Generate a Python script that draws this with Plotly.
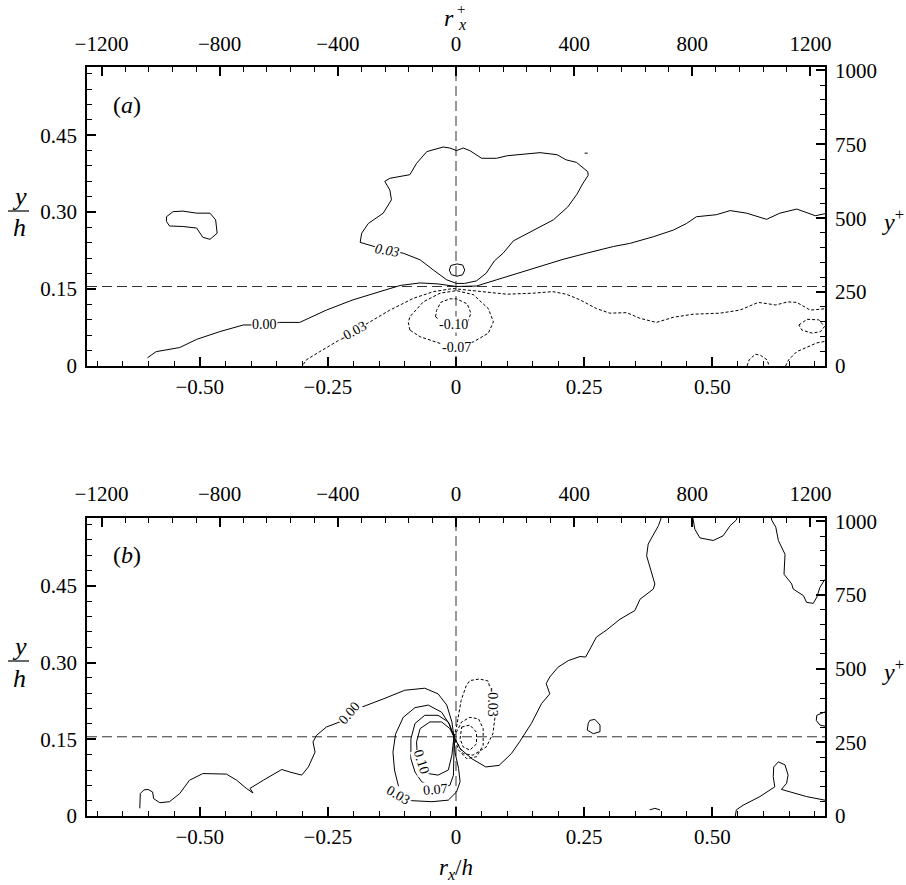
import numpy as np
import plotly.graph_objects as go

# ---------------- data ----------------
RE_TAU = 1735          # friction Reynolds number (rx+ = rx/h * RE_TAU)
Y_REF = 0.155          # reference height y/h (horizontal dashed line)
X_RANGE = [-0.72, 0.72]
Y_RANGE = [0.0, 0.583]

BOTTOM_TICKS = [-0.50, -0.25, 0.0, 0.25, 0.50]
BOTTOM_LABELS = ["\u22120.50", "\u22120.25", "0", "0.25", "0.50"]
LEFT_TICKS = [0.0, 0.15, 0.30, 0.45]
LEFT_LABELS = ["0", "0.15", "0.30", "0.45"]
TOP_TICKS = [-1200, -800, -400, 0, 400, 800, 1200]
TOP_LABELS = ["\u22121200", "\u2212800", "\u2212400", "0", "400", "800", "1200"]
RIGHT_TICKS = [0, 250, 500, 750, 1000]
RIGHT_LABELS = ["0", "250", "500", "750", "1000"]

# panel (a) contours  (rx/h, y/h)
A_ZERO = [(-0.602,0.016),(-0.585,0.028),(-0.539,0.036),(-0.506,0.052),(-0.461,0.067),(-0.415,0.080),
          (-0.373,0.080),(-0.344,0.085),(-0.305,0.085),(-0.253,0.109),(-0.201,0.129),(-0.150,0.144),
          (-0.109,0.157),(-0.070,0.162),(-0.035,0.160),(0.001,0.155),(0.040,0.156),(0.079,0.168),
          (0.145,0.188),(0.209,0.208),(0.255,0.220),(0.307,0.233),(0.339,0.239),(0.385,0.252),
          (0.424,0.265),(0.450,0.278),(0.469,0.291),(0.508,0.295),(0.535,0.303),(0.567,0.298),
          (0.606,0.286),(0.632,0.298),(0.665,0.306),(0.701,0.293),(0.725,0.298)]
A_P03 = [(-0.187,0.241),(-0.132,0.225),(-0.103,0.220),(-0.070,0.207),(-0.044,0.187),(-0.018,0.168),
         (0.001,0.161),(0.017,0.161),(0.040,0.166),(0.059,0.181),(0.075,0.205),(0.092,0.220),
         (0.112,0.244),(0.150,0.264),(0.190,0.285),(0.218,0.310),(0.236,0.335),(0.247,0.355),
         (0.258,0.372),(0.257,0.379),(0.235,0.397),(0.215,0.402),(0.197,0.412),(0.164,0.416),
         (0.124,0.413),(0.100,0.410),(0.079,0.405),(0.050,0.405),(0.027,0.420),(0.014,0.425),
         (0.001,0.420),(-0.012,0.425),(-0.025,0.427),(-0.057,0.418),(-0.077,0.395),(-0.090,0.373),
         (-0.129,0.366),(-0.139,0.360),(-0.129,0.343),(-0.126,0.324),(-0.142,0.298),(-0.171,0.278),
         (-0.184,0.259),(-0.187,0.241)]
A_P03_SMALL = [(0.017,0.187),(0.013,0.197),(0.002,0.199),(-0.010,0.196),(-0.013,0.187),(-0.009,0.178),
               (0.002,0.175),(0.013,0.178),(0.017,0.187)]
A_LEFT = [(-0.565,0.291),(-0.552,0.301),(-0.533,0.302),(-0.506,0.298),(-0.480,0.298),(-0.469,0.285),
          (-0.466,0.259),(-0.480,0.247),(-0.494,0.251),(-0.506,0.269),(-0.533,0.272),(-0.559,0.273),
          (-0.565,0.282),(-0.565,0.291)]
A_SPECK = [(0.251,0.415),(0.257,0.415)]
A_M03 = [(-0.298,0.003),(-0.292,0.012),(-0.266,0.028),(-0.227,0.051),(-0.201,0.067),(-0.168,0.086),
         (-0.129,0.109),(-0.083,0.132),(-0.044,0.145),(-0.006,0.151),(0.047,0.145),(0.099,0.140),
         (0.151,0.142),(0.189,0.145),(0.215,0.140),(0.242,0.129),(0.274,0.112),(0.300,0.103),
         (0.333,0.104),(0.359,0.093),(0.391,0.085),(0.424,0.095),(0.463,0.101),(0.515,0.103),
         (0.554,0.109),(0.590,0.124),(0.624,0.119),(0.647,0.125),(0.665,0.124),(0.691,0.109),
         (0.725,0.112)]
A_M07 = [(-0.090,0.070),(-0.093,0.085),(-0.090,0.096),(-0.064,0.125),(-0.031,0.142),(0.001,0.147),
         (0.034,0.139),(0.063,0.112),(0.073,0.086),(0.063,0.064),(0.034,0.047),(0.001,0.038),
         (-0.031,0.044),(-0.070,0.057),(-0.090,0.070)]
A_M10 = [(-0.040,0.096),(-0.038,0.108),(-0.030,0.124),(-0.012,0.131),(0.001,0.131),(0.022,0.121),
         (0.029,0.103),(0.023,0.086),(0.008,0.081),(-0.010,0.082),(-0.030,0.088),(-0.040,0.096)]
A_M_LOOP = [(0.669,0.080),(0.685,0.091),(0.708,0.090),(0.719,0.077),(0.711,0.067),(0.695,0.064),
            (0.675,0.070),(0.669,0.080)]
A_M_ARC1 = [(0.568,0.000),(0.572,0.012),(0.584,0.023),(0.594,0.021),(0.607,0.012),(0.611,0.000)]
A_M_ARC2 = [(0.643,0.000),(0.649,0.012),(0.665,0.028),(0.685,0.036),(0.704,0.045),(0.725,0.049)]

# panel (b) contours
B_ZERO = [(-0.617,0.015),(-0.616,0.044),(-0.609,0.051),(-0.601,0.052),(-0.592,0.047),(-0.590,0.034),
          (-0.578,0.026),(-0.559,0.028),(-0.539,0.044),(-0.520,0.070),(-0.494,0.083),(-0.448,0.082),
          (-0.428,0.070),(-0.409,0.054),(-0.396,0.045),(-0.402,0.054),(-0.376,0.070),(-0.340,0.091),
          (-0.324,0.086),(-0.301,0.080),(-0.288,0.096),(-0.275,0.125),(-0.279,0.145),(-0.272,0.158),
          (-0.253,0.174),(-0.227,0.184),(-0.207,0.203),(-0.184,0.213),(-0.142,0.229),(-0.100,0.246),
          (-0.061,0.250),(-0.035,0.239),(-0.018,0.217),(-0.008,0.184),(-0.004,0.155),(0.008,0.132),
          (0.031,0.112),(0.058,0.096),(0.084,0.099),(0.108,0.122),(0.124,0.145),(0.147,0.181),
          (0.167,0.220),(0.183,0.239),(0.176,0.259),(0.183,0.272),(0.199,0.291),(0.219,0.304),
          (0.242,0.312),(0.253,0.311),(0.274,0.350),(0.294,0.364),(0.320,0.385),(0.349,0.402),
          (0.359,0.424),(0.385,0.444),(0.388,0.454),(0.381,0.480),(0.375,0.500),(0.372,0.509),
          (0.375,0.532),(0.385,0.551),(0.395,0.568),(0.399,0.579),(0.402,0.590)]
B_TOP1 = [(0.461,0.590),(0.463,0.579),(0.466,0.561),(0.476,0.544),(0.502,0.539),(0.521,0.548),
          (0.535,0.568),(0.547,0.579),(0.550,0.590)]
B_TOP2 = [(0.614,0.590),(0.616,0.579),(0.624,0.565),(0.629,0.539),(0.642,0.512),(0.640,0.473),
          (0.655,0.454),(0.658,0.444),(0.678,0.431),(0.684,0.418),(0.697,0.416),(0.704,0.428),
          (0.710,0.447),(0.718,0.460),(0.725,0.468)]
B_SMALL = [(0.261,0.187),(0.271,0.189),(0.281,0.178),(0.281,0.165),(0.268,0.161),(0.256,0.168),
           (0.258,0.181),(0.261,0.187)]
B_EDGE = [(0.725,0.205),(0.718,0.203),(0.704,0.197),(0.703,0.187),(0.710,0.178),(0.718,0.176),
          (0.725,0.176)]
B_LOWR = [(0.545,0.000),(0.547,0.012),(0.560,0.021),(0.593,0.038),(0.622,0.057),(0.619,0.077),
          (0.620,0.096),(0.629,0.106),(0.642,0.100),(0.648,0.080),(0.645,0.064),(0.635,0.052),
          (0.684,0.038),(0.718,0.031),(0.725,0.030)]
B_TINY = [(0.378,0.012),(0.388,0.015),(0.398,0.012)]
B_P03 = [(-0.004,0.155),(-0.012,0.178),(-0.028,0.203),(-0.054,0.217),(-0.080,0.212),(-0.103,0.193),
         (-0.118,0.160),(-0.123,0.125),(-0.120,0.090),(-0.113,0.060),(-0.108,0.041),(-0.087,0.030),
         (-0.047,0.028),(-0.015,0.031),(0.001,0.047),(0.008,0.067),(0.005,0.093),(-0.002,0.125),
         (-0.004,0.155)]
B_P07 = [(-0.004,0.155),(-0.015,0.184),(-0.035,0.197),(-0.061,0.197),(-0.080,0.181),(-0.088,0.151),
         (-0.088,0.112),(-0.080,0.086),(-0.067,0.067),(-0.040,0.053),(-0.012,0.060),(-0.005,0.080),
         (-0.004,0.125),(-0.004,0.155)]
B_P10 = [(-0.004,0.155),(-0.012,0.171),(-0.028,0.184),(-0.051,0.184),(-0.070,0.171),(-0.077,0.145),
         (-0.075,0.110),(-0.054,0.083),(-0.035,0.080),(-0.015,0.090),(-0.008,0.119),(-0.004,0.155)]
B_M03 = [(-0.004,0.155),(0.001,0.174),(0.010,0.226),(0.020,0.255),(0.027,0.265),(0.046,0.268),
         (0.063,0.264),(0.069,0.239),(0.072,0.223),(0.076,0.193),(0.072,0.161),(0.059,0.135),
         (0.033,0.119),(0.014,0.122),(-0.004,0.155)]
B_M07 = [(-0.004,0.155),(0.011,0.184),(0.027,0.193),(0.044,0.190),(0.053,0.171),(0.053,0.138),
         (0.040,0.116),(0.021,0.112),(0.005,0.129),(-0.004,0.155)]
B_M10 = [(0.011,0.174),(0.027,0.178),(0.040,0.164),(0.040,0.141),(0.027,0.129),(0.014,0.135),
         (0.008,0.151),(0.011,0.174)]

A_SOLID = [A_ZERO, A_P03, A_P03_SMALL, A_LEFT, A_SPECK]
A_DASHED = [A_M03, A_M07, A_M10, A_M_LOOP, A_M_ARC1, A_M_ARC2]
B_SOLID = [B_ZERO, B_TOP1, B_TOP2, B_SMALL, B_EDGE, B_LOWR, B_TINY, B_P03, B_P07, B_P10]
B_DASHED = [B_M03, B_M07, B_M10]

# contour labels: (text, rx/h, y/h, angle)
A_LABELS = [("<i>0.03</i>", -0.133, 0.226, 10), ("0.00", -0.373, 0.080, 0), ("-0.03", -0.201, 0.068, -28),
            ("-0.10", -0.004, 0.080, 0), ("-0.07", 0.000, 0.036, 0)]
B_LABELS = [("0.00", -0.207, 0.202, -50), ("0.10", -0.068, 0.106, 72), ("0.07", -0.040, 0.052, -5),
            ("0.03", -0.112, 0.040, 30), ("-0.03", 0.072, 0.222, 90)]

# ---------------- figure ----------------
W, H = 906, 885
FONT = "Liberation Serif"
fig = go.Figure()

def add_lines(lines, xa, ya, dash):
    for ln in lines:
        xs = [p[0] for p in ln]
        ys = [p[1] for p in ln]
        fig.add_trace(go.Scatter(x=xs, y=ys, mode="lines", xaxis=xa, yaxis=ya,
                                 line=dict(color="black", width=1, dash=dash),
                                 hoverinfo="skip", showlegend=False))

def add_refs(xa, ya):
    fig.add_trace(go.Scatter(x=[0, 0], y=Y_RANGE, mode="lines", xaxis=xa, yaxis=ya,
                             line=dict(color="#333", width=1, dash="10px,5px"),
                             hoverinfo="skip", showlegend=False))
    fig.add_trace(go.Scatter(x=X_RANGE, y=[Y_REF, Y_REF], mode="lines", xaxis=xa, yaxis=ya,
                             line=dict(color="#333", width=1, dash="10px,5px"),
                             hoverinfo="skip", showlegend=False))

TOP_RANGE = [X_RANGE[0] * RE_TAU, X_RANGE[1] * RE_TAU]
RIGHT_RANGE = [Y_RANGE[0] * RE_TAU, Y_RANGE[1] * RE_TAU]

def add_dummy(xa, ya, xs, ys):
    # invisible trace so that the secondary (rx+, y+) axes get drawn
    fig.add_trace(go.Scatter(x=xs, y=ys, mode="markers", xaxis=xa, yaxis=ya,
                             marker=dict(opacity=0, size=1), hoverinfo="skip", showlegend=False))

add_refs("x", "y")
add_lines(A_SOLID, "x", "y", "solid")
add_lines(A_DASHED, "x", "y", "3px,2px")
add_dummy("x2", "y", TOP_RANGE, Y_RANGE)
add_dummy("x", "y2", X_RANGE, RIGHT_RANGE)
add_refs("x3", "y3")
add_lines(B_SOLID, "x3", "y3", "solid")
add_lines(B_DASHED, "x3", "y3", "3px,2px")
add_dummy("x4", "y3", TOP_RANGE, Y_RANGE)
add_dummy("x3", "y4", X_RANGE, RIGHT_RANGE)

tickfont = dict(family=FONT, size=21, color="black")

def ax(tickvals, ticktext, minor_vals, **kw):
    d = dict(showline=True, linecolor="black", linewidth=1.8, ticks="inside", ticklen=9,
             tickwidth=1.5, tickcolor="black", showgrid=False, zeroline=False,
             tickfont=tickfont, tickmode="array", tickvals=tickvals, ticktext=ticktext,
             minor=dict(ticks="inside", ticklen=5, tickwidth=1, tickcolor="black",
                        tickmode="array", tickvals=list(minor_vals), showgrid=False),
             fixedrange=True, automargin=False)
    d.update(kw)
    return d

xminor = np.round(np.arange(-0.70, 0.701, 0.05), 3)
yminor = np.round(np.arange(0.0, 0.58, 0.03), 3)
tminor = np.arange(-1200, 1201, 80)
rminor = np.arange(0, 1001, 50)

XDOM = [87 / W, 825 / W]
YDOM_A = [1 - 366 / H, 1 - 67 / H]
YDOM_B = [1 - 816 / H, 1 - 518 / H]

fig.update_layout(
    width=W, height=H, margin=dict(l=0, r=0, t=0, b=0),
    paper_bgcolor="white", plot_bgcolor="white", showlegend=False,
    xaxis=ax(BOTTOM_TICKS, BOTTOM_LABELS, xminor, domain=XDOM, range=X_RANGE, anchor="y",
             ticklabelstandoff=1),
    yaxis=ax(LEFT_TICKS, LEFT_LABELS, yminor, domain=YDOM_A, range=Y_RANGE, anchor="x",
             ticklabelstandoff=4),
    xaxis2=ax(TOP_TICKS, TOP_LABELS, tminor, overlaying="x", side="top", anchor="y",
              range=TOP_RANGE, ticklabelstandoff=6),
    yaxis2=ax(RIGHT_TICKS, RIGHT_LABELS, rminor, overlaying="y", side="right", anchor="x",
              range=RIGHT_RANGE, ticklabelstandoff=4),
    xaxis3=ax(BOTTOM_TICKS, BOTTOM_LABELS, xminor, domain=XDOM, range=X_RANGE, anchor="y3",
              ticklabelstandoff=1),
    yaxis3=ax(LEFT_TICKS, LEFT_LABELS, yminor, domain=YDOM_B, range=Y_RANGE, anchor="x3",
              ticklabelstandoff=4),
    xaxis4=ax(TOP_TICKS, TOP_LABELS, tminor, overlaying="x3", side="top", anchor="y3",
              range=TOP_RANGE, ticklabelstandoff=7),
    yaxis4=ax(RIGHT_TICKS, RIGHT_LABELS, rminor, overlaying="y3", side="right", anchor="x3",
              range=RIGHT_RANGE, ticklabelstandoff=4),
)

# contour labels
lab_font = dict(family=FONT, size=14, color="black")
for txt, x, y, ang in A_LABELS:
    fig.add_annotation(x=x, y=y, xref="x", yref="y", text=txt, showarrow=False, textangle=ang,
                       font=lab_font, bgcolor="white", borderpad=0)
for txt, x, y, ang in B_LABELS:
    fig.add_annotation(x=x, y=y, xref="x3", yref="y3", text=txt, showarrow=False, textangle=ang,
                       font=lab_font, bgcolor="white", borderpad=0)

def pt(text, px, py, size, xanchor="center", yanchor="middle"):
    fig.add_annotation(x=px / W, y=1 - py / H, xref="paper", yref="paper", text=text,
                       showarrow=False, xanchor=xanchor, yanchor=yanchor,
                       font=dict(family=FONT, size=size, color="black"))

# panel letters
pt("(<i>a</i>)", 127, 105, 24)
pt("(<i>b</i>)", 127, 555, 24)

# y/h fractions
for yc, bar, hc in [(196, 211, 227), (646, 661, 678)]:
    pt("<i>y</i>", 19, yc, 26)
    pt("<i>h</i>", 19, hc, 26)
    fig.add_shape(type="line", xref="paper", yref="paper", x0=8 / W, x1=29 / W,
                  y0=1 - bar / H, y1=1 - bar / H, line=dict(color="black", width=1.2))

# y+ labels
pt("<i>y</i><sup>+</sup>", 893, 220, 24)
pt("<i>y</i><sup>+</sup>", 893, 670, 24)

# r_x^+ on top
pt("<i>r</i>", 449, 18, 24)
pt("+", 461, 9, 15)
pt("<i>x</i>", 462, 25, 16)

# r_x/h at bottom
pt("<i>r<sub>x</sub></i>/<i>h</i>", 456, 869, 23)

fig.write_html("out.html", config={"displayModeBar": False},
               post_script="document.body.style.margin='0px';")
